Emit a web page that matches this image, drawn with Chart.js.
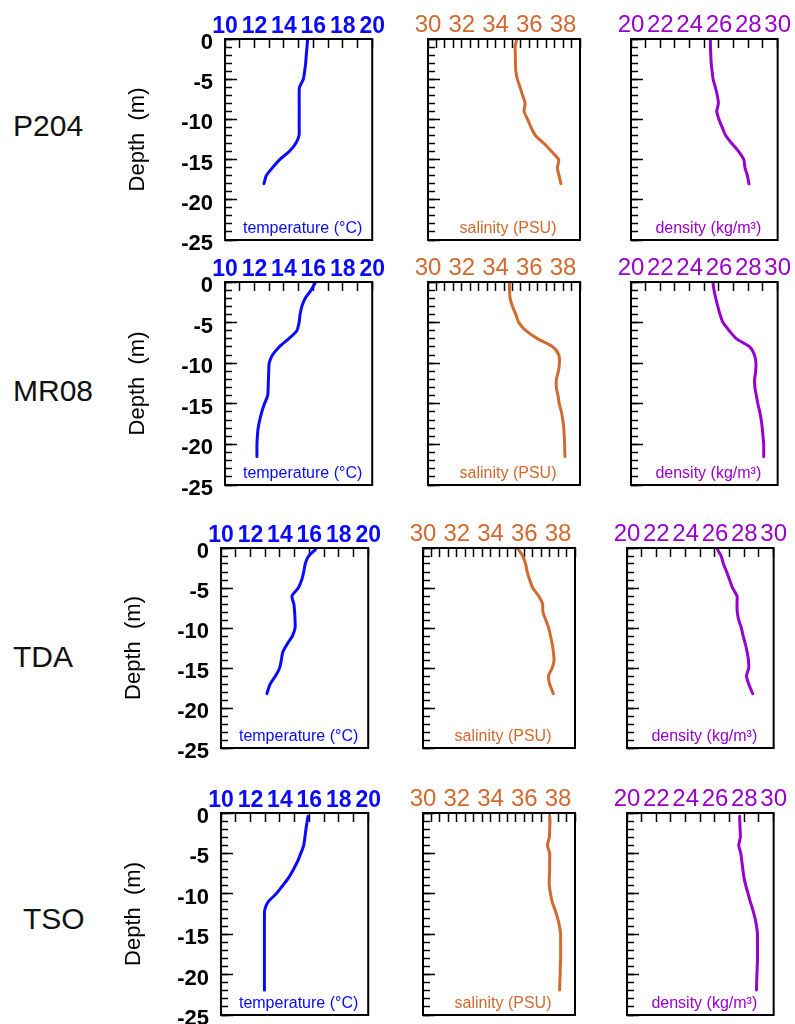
<!DOCTYPE html>
<html lang="en">
<head>
  <meta charset="UTF-8">
  <title>Depth profiles</title>
  <script src="https://cdn.jsdelivr.net/npm/chart.js"></script>
  <style>
    body {
      margin: 0;
      background: #fff;
      font-family: 'Liberation Sans', Arial, sans-serif;
    }
    #page {
      position: relative;
      width: 795px;
      height: 1024px;
      overflow: hidden;
    }
    .station {
      position: absolute;
      font-size: 30px;
      line-height: 30px;
      color: #111;
    }
    canvas {
      position: absolute;
    }
  </style>
</head>
<body>
  <div id="page"></div>

  <script>
    // station profiles: depth (m), temperature (°C), salinity (PSU), density (kg/m3)
    const p204Depth = [0, -1, -2, -3, -4, -5, -6, -7, -8, -9, -10, -11, -12, -13, -14, -15, -16, -17, -18];
    const p204Temp  = [15.61, 15.57, 15.52, 15.48, 15.41, 15.32, 15.06, 15.04, 15.04, 15.04, 15.04, 15.04, 15.03, 14.8, 14.36, 13.71, 13.23, 12.8, 12.65];
    const p204Sal   = [35.26, 35.16, 35.17, 35.18, 35.2, 35.29, 35.45, 35.6, 35.75, 35.69, 35.9, 36.1, 36.36, 36.87, 37.32, 37.74, 37.66, 37.76, 37.87];
    const p204Dens  = [25.41, 25.42, 25.44, 25.47, 25.53, 25.6, 25.75, 25.88, 25.96, 25.85, 26.0, 26.22, 26.46, 26.88, 27.35, 27.69, 27.77, 27.94, 28.04];

    const mr08Depth = [0, -1, -2, -3, -4, -5, -6, -7, -8, -9, -10, -11, -12, -13, -14, -15, -16, -17, -18, -19, -20, -21, -21.5];
    const mr08Temp  = [16.16, 15.85, 15.45, 15.22, 15.1, 15.03, 14.88, 14.32, 13.68, 13.22, 13.0, 12.97, 12.95, 12.93, 12.9, 12.68, 12.5, 12.36, 12.25, 12.2, 12.17, 12.17, 12.17];
    const mr08Sal   = [34.82, 34.83, 34.86, 35.0, 35.2, 35.38, 35.8, 36.5, 37.4, 37.75, 37.78, 37.72, 37.6, 37.6, 37.7, 37.77, 37.9, 37.98, 38.04, 38.07, 38.09, 38.1, 38.11];
    const mr08Dens  = [25.58, 25.66, 25.78, 25.92, 26.07, 26.28, 26.7, 27.2, 28.1, 28.42, 28.52, 28.5, 28.43, 28.45, 28.55, 28.65, 28.78, 28.88, 28.95, 29.0, 29.05, 29.05, 29.05];

    const tdaDepth = [-0.2, -1, -2, -3, -4, -5, -6, -7, -8, -9, -10, -11, -12, -13, -14, -15, -16, -17, -18, -18.2];
    const tdaTemp  = [16.42, 15.95, 15.72, 15.62, 15.48, 15.25, 14.82, 14.95, 15.0, 15.03, 15.03, 14.85, 14.5, 14.2, 14.1, 13.98, 13.7, 13.34, 13.15, 13.12];
    const tdaSal   = [35.66, 35.9, 36.08, 36.17, 36.32, 36.5, 36.85, 37.08, 37.1, 37.27, 37.44, 37.55, 37.65, 37.72, 37.76, 37.65, 37.43, 37.5, 37.68, 37.72];
    const tdaDens  = [26.18, 26.42, 26.58, 26.8, 27.0, 27.2, 27.5, 27.5, 27.52, 27.62, 27.8, 27.92, 28.07, 28.19, 28.28, 28.3, 28.15, 28.3, 28.52, 28.57];

    const tsoDepth = [-0.4, -1, -2, -3, -4, -5, -6, -7, -8, -9, -10, -11, -12, -13, -14, -15, -16, -17, -18, -19, -20, -21, -21.9];
    const tsoTemp  = [15.91, 15.86, 15.77, 15.7, 15.62, 15.42, 15.2, 14.92, 14.6, 14.18, 13.75, 13.2, 12.97, 12.95, 12.95, 12.95, 12.95, 12.95, 12.95, 12.95, 12.95, 12.95, 12.95];
    const tsoSal   = [37.5, 37.52, 37.5, 37.48, 37.37, 37.5, 37.5, 37.5, 37.48, 37.48, 37.55, 37.65, 37.82, 37.97, 38.08, 38.15, 38.15, 38.15, 38.15, 38.13, 38.12, 38.1, 38.09];
    const tsoDens  = [27.68, 27.69, 27.71, 27.73, 27.62, 27.76, 27.83, 27.9, 27.98, 28.1, 28.26, 28.41, 28.58, 28.73, 28.83, 28.9, 28.9, 28.9, 28.9, 28.88, 28.86, 28.84, 28.83];

    const stationNames = ['P204', 'MR08', 'TDA', 'TSO'];
    const profiles = [
      { depth: p204Depth, values: [p204Temp, p204Sal, p204Dens] },
      { depth: mr08Depth, values: [mr08Temp, mr08Sal, mr08Dens] },
      { depth: tdaDepth,  values: [tdaTemp,  tdaSal,  tdaDens] },
      { depth: tsoDepth,  values: [tsoTemp,  tsoSal,  tsoDens] }
    ];

    // one entry per column
    const variables = [
      { label: 'temperature (°C)', color: '#0a0aff', min: 10, max: 20, step: 1,   lastLabel: 20, bold: true,  size: 23 },
      { label: 'salinity (PSU)',   color: '#d2692e', min: 30, max: 39, step: 0.5, lastLabel: 38, bold: false, size: 24 },
      { label: 'density (kg/m³)',  color: '#9900cc', min: 20, max: 30, step: 1,   lastLabel: 30, bold: false, size: 24 }
    ];

    // plot rectangles on the page
    const rowBoxes = [
      { top: 39,  bottom: 240,  left: [225, 428, 631], width: 152 },
      { top: 282, bottom: 485,  left: [225, 428, 631], width: 152 },
      { top: 548, bottom: 748,  left: [221, 423, 627], width: 152 },
      { top: 813, bottom: 1015, left: [221, 423, 627], width: 152 }
    ];
    const stationPos = [
      { left: 13, mid: 126 },
      { left: 13, mid: 391 },
      { left: 13, mid: 657 },
      { left: 23, mid: 919 }
    ];

    const FONT = "'Liberation Sans', Arial, sans-serif";
    Chart.defaults.font.family = FONT;

    const page = document.getElementById('page');

    stationNames.forEach((name, i) => {
      const d = document.createElement('div');
      d.className = 'station';
      d.textContent = name;
      d.style.left = stationPos[i].left + 'px';
      d.style.top = (stationPos[i].mid - 15) + 'px';
      page.appendChild(d);
    });

    // black box round the plot area
    const framePlugin = {
      id: 'frame',
      afterDatasetsDraw(chart) {
        const { ctx, chartArea: a } = chart;
        ctx.save();
        ctx.strokeStyle = '#000';
        ctx.lineWidth = 2;
        ctx.strokeRect(a.left, a.top, a.right - a.left, a.bottom - a.top);
        ctx.restore();
      }
    };

    // variable name written inside the plot, near the bottom
    const panelLabel = {
      id: 'panelLabel',
      afterDatasetsDraw(chart, args, opts) {
        const { ctx, chartArea: a } = chart;
        ctx.save();
        ctx.font = '16px ' + FONT;
        ctx.fillStyle = opts.color;
        ctx.textAlign = 'center';
        ctx.textBaseline = 'middle';
        ctx.fillText(opts.text, (a.left + a.right) / 2 + 4, a.bottom - 11);
        ctx.restore();
      }
    };

    function makePanel(row, col) {
      const prof = profiles[row];
      const v = variables[col];
      const box = rowBoxes[row];
      // room round the plot: y labels/title on the left of column 0, tick labels on top
      const L = col === 0 ? 100 : 22, T = 42, R = 16, B = 42;
      const plotH = box.bottom - box.top;

      const canvas = document.createElement('canvas');
      canvas.width = box.width + L + R;
      canvas.height = plotH + T + B;
      canvas.style.left = (box.left[col] - L) + 'px';
      canvas.style.top = (box.top - T) + 'px';
      page.appendChild(canvas);

      const vals = prof.values[col];
      const points = prof.depth.map((d, i) => ({ x: vals[i], y: d }));

      new Chart(canvas, {
        type: 'scatter',
        data: {
          datasets: [{
            data: points,
            showLine: true,
            borderColor: v.color,
            borderWidth: 3,
            borderCapStyle: 'round',
            borderJoinStyle: 'round',
            pointRadius: 0,
            tension: 0.25,
            fill: false
          }]
        },
        options: {
          responsive: false,
          animation: false,
          layout: { padding: { left: 0, top: 0, right: R, bottom: B } },
          plugins: {
            legend: { display: false },
            tooltip: { enabled: false },
            panelLabel: { text: v.label, color: v.color }
          },
          scales: {
            x: {
              type: 'linear',
              position: 'top',
              min: v.min,
              max: v.max,
              border: { display: false },
              grid: { drawOnChartArea: false, drawTicks: true, tickLength: -9, tickColor: '#000', tickWidth: 1.5 },
              ticks: {
                stepSize: v.step,
                autoSkip: false,
                maxRotation: 0,
                padding: 8,
                color: v.color,
                font: { size: v.size, weight: v.bold ? 'bold' : 'normal' },
                callback: val => (Math.abs(val % 2) < 1e-6 && val <= v.lastLabel) ? String(val) : ''
              },
              afterFit: s => { s.height = T; }
            },
            y: {
              type: 'linear',
              position: 'left',
              weight: 1,
              min: -25,
              max: 0,
              border: { display: false },
              grid: { drawOnChartArea: false, drawTicks: true, tickLength: -12, tickColor: '#000', tickWidth: 1.5 },
              ticks: {
                display: col === 0,
                stepSize: 5,
                autoSkip: false,
                padding: 24,
                labelOffset: 4,
                color: '#000',
                font: { size: 22, weight: 'bold' },
                callback: val => String(val)
              },
              title: {
                display: col === 0,
                text: 'Depth  (m)',
                color: '#000',
                font: { size: 22 },
                padding: { top: 0, bottom: 0 }
              },
              afterFit: s => { s.width = L; }
            },
            yMinor: {
              type: 'linear',
              position: 'left',
              weight: 0,
              min: -25,
              max: 0,
              border: { display: false },
              grid: { drawOnChartArea: false, drawTicks: true, tickLength: -7, tickColor: '#000', tickWidth: 1.5 },
              ticks: { display: false, stepSize: 1, autoSkip: false },
              afterFit: s => { s.width = 0; }
            }
          }
        },
        plugins: [framePlugin, panelLabel]
      });
    }

    for (let r = 0; r < 4; r++) {
      for (let c = 0; c < 3; c++) makePanel(r, c);
    }
  </script>
</body>
</html>
